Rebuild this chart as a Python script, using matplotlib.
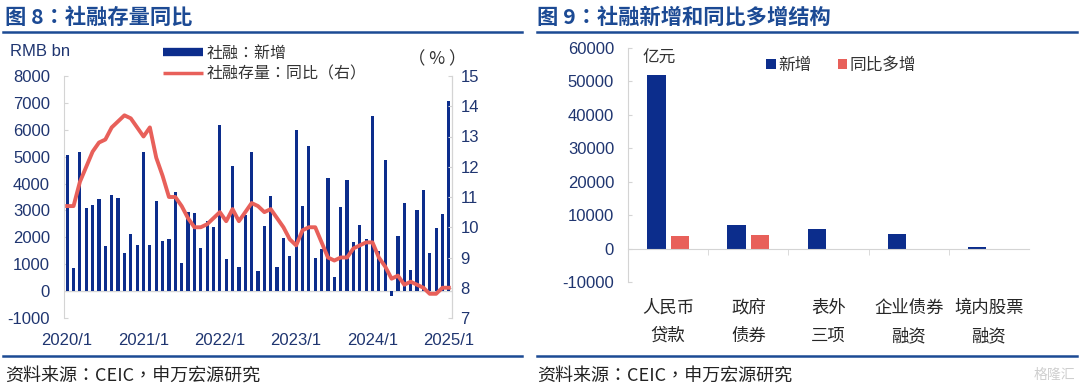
import numpy as np
import matplotlib.pyplot as plt
from matplotlib.lines import Line2D

plt.rcParams['font.family'] = ['Liberation Sans', 'Noto Sans CJK SC', 'DejaVu Sans']
plt.rcParams['axes.unicode_minus'] = False
cjk = ['Noto Sans CJK TC', 'DejaVu Sans']  # centred full-width punctuation

# ---- 图8 data: monthly TSF new (RMB bn) and stock yoy (%) 2020/1 - 2025/1
tsf_new = [5070, 855, 5180, 3090, 3190, 3430, 1690, 3580, 3480, 1400, 2130, 1720,
           5170, 1710, 3340, 1850, 1920, 3670, 1060, 2960, 2900, 1590, 2610, 2370,
           6170, 1190, 4650, 910, 2840, 5170, 760, 2430, 3530, 910, 1990, 1310,
           5980, 3160, 5380, 1220, 1560, 4220, 540, 3120, 4130, 1840, 2450, 1930,
           6500, 1500, 4870, -199, 2060, 3290, 770, 3030, 3760, 1400, 2340, 2850,
           7060]
tsf_yoy = [10.7, 10.7, 11.5, 12.0, 12.5, 12.8, 12.9, 13.3, 13.5, 13.7, 13.6, 13.3,
           13.0, 13.3, 12.3, 11.7, 11.0, 11.0, 10.7, 10.3, 10.0, 10.0, 10.1, 10.3,
           10.5, 10.2, 10.6, 10.2, 10.5, 10.8, 10.7, 10.5, 10.6, 10.3, 10.0, 9.6,
           9.4, 9.9, 10.0, 10.0, 9.5, 9.0, 8.9, 9.0, 9.0, 9.3, 9.4, 9.5,
           9.5, 9.0, 8.7, 8.3, 8.4, 8.1, 8.2, 8.1, 8.0, 7.8, 7.8, 8.0,
           8.0]
year_labels = ['2020/1', '2021/1', '2022/1', '2023/1', '2024/1', '2025/1']

# ---- 图9 data (亿元)
categories = ['人民币\n贷款', '政府\n债券', '表外\n三项', '企业债券\n融资', '境内股票\n融资']
new_add = [52000, 6950, 5750, 4500, 400]
yoy_more = [3650, 4000, -250, -60, -40]

navy = '#1f3570'
bar_blue = '#0c2d8c'
line_red = '#e8605a'
title_c = '#1c4a94'
grid_c = '#d4d4d4'

fig = plt.figure(figsize=(10.8, 3.9), dpi=100)

# titles and rules
fig.text(5 / 1080, 1 - 17 / 390, '图 8：社融存量同比', fontsize=15.3, fontweight='bold',
         color=title_c, va='center', ha='left', family=cjk)
fig.text(537 / 1080, 1 - 17 / 390, '图 9：社融新增和同比多增结构', fontsize=15.3, fontweight='bold',
         color=title_c, va='center', ha='left', family=cjk)
for y in (32, 356):
    fig.add_artist(Line2D([3 / 1080, 522 / 1080], [1 - y / 390] * 2, color=title_c, lw=1.8))
    fig.add_artist(Line2D([537 / 1080, 1077 / 1080], [1 - y / 390] * 2, color=title_c, lw=1.8))
for fx in (5, 537):
    fig.text(fx / 1080, 1 - 377 / 390, '资料来源：CEIC，申万宏源研究', fontsize=13, color='#222222',
             va='center', ha='left', family=cjk)
fig.text(1075 / 1080, 1 - 375 / 390, '格隆汇', fontsize=10, color='#cfcfcf',
         va='center', ha='right', family=cjk)

# ---- left chart
ax = fig.add_axes([64 / 1080, 1 - 318 / 390, (452 - 64) / 1080, (318 - 76) / 390])
x = np.arange(len(tsf_new))
ax.bar(x, tsf_new, width=0.5, color=bar_blue, zorder=2)
ax.set_xlim(-0.5, 60.5)
ax.set_ylim(-1000, 8000)
ax.set_yticks(np.arange(-1000, 8001, 1000))
ax.set_xticks(np.arange(0, 61, 12))
ax.set_xticklabels(year_labels)
ax.axhline(0, color=grid_c, lw=1, zorder=1)
for s in ('top', 'bottom'):
    ax.spines[s].set_visible(False)
for s in ('left', 'right'):
    ax.spines[s].set_color(grid_c)
ax.tick_params(axis='y', colors=grid_c, labelcolor=navy, labelsize=12, length=3, direction='in', pad=10)
ax.tick_params(axis='x', colors=grid_c, labelcolor=navy, labelsize=12, length=0, pad=11)

ax2 = ax.twinx()
ax2.plot(x, tsf_yoy, color=line_red, lw=2.8, zorder=3)
ax2.set_ylim(7, 15)
ax2.set_yticks(np.arange(7, 16, 1))
for s in ('top', 'bottom', 'left'):
    ax2.spines[s].set_visible(False)
ax2.spines['right'].set_color(grid_c)
ax2.tick_params(axis='y', colors=grid_c, labelcolor=navy, labelsize=12, length=3, direction='in', pad=6)

fig.text(10 / 1080, 1 - 52 / 390, 'RMB bn', fontsize=12, color=navy, va='center', ha='left')
fig.text(437 / 1080, 1 - 59 / 390, '（ % ）', fontsize=12.5, color='#333333', va='center', ha='center',
         family=['Noto Sans CJK JP', 'DejaVu Sans'])
handles = [Line2D([], [], color=bar_blue, lw=6, solid_capstyle='butt'),
           Line2D([], [], color=line_red, lw=2.5, solid_capstyle='butt')]
fig.legend(handles, ['社融：新增', '社融存量：同比（右）'], loc='upper left',
           bbox_to_anchor=(163 / 1080, 1 - 45 / 390), frameon=False,
           prop={'family': cjk, 'size': 11.5},
           handlelength=2.5, handletextpad=0.2, labelspacing=0.2, borderpad=0, borderaxespad=0,
           labelcolor='#333333')

# ---- right chart
bx = fig.add_axes([628 / 1080, 1 - 282 / 390, (1029 - 628) / 1080, (282 - 48) / 390])
cx = np.arange(len(categories))
bx.bar(cx - 0.145, new_add, width=0.23, color=bar_blue, label='新增', zorder=2)
bx.bar(cx + 0.145, yoy_more, width=0.23, color=line_red, label='同比多增', zorder=2)
bx.set_xlim(-0.5, len(categories) - 0.5)
bx.set_ylim(-10000, 60000)
bx.set_yticks(np.arange(-10000, 60001, 10000))
bx.spines['top'].set_visible(False)
bx.spines['right'].set_visible(False)
bx.spines['left'].set_color(grid_c)
bx.spines['bottom'].set_position(('data', 0))
bx.spines['bottom'].set_color(grid_c)
bx.set_xticks(cx)
bx.set_xticklabels(categories, linespacing=1.75, family=cjk)
bx.set_xticks(cx[:-1] + 0.5, minor=True)
bx.tick_params(axis='x', which='major', length=0, pad=36, labelsize=12.5, labelcolor='#262626')
bx.tick_params(axis='x', which='minor', length=4, color=grid_c, direction='out')
bx.tick_params(axis='y', colors=grid_c, labelcolor=navy, labelsize=12, length=3, direction='in', pad=10)
bx.text(0.037, 0.955, '亿元', transform=bx.transAxes, fontsize=12, color='#333333', va='center',
        family=cjk)
bx.legend(loc='center left', bbox_to_anchor=(0.345, 0.925), ncol=2, frameon=False,
          prop={'family': cjk, 'size': 12},
          handlelength=0.55, handleheight=0.55, handletextpad=0.15, columnspacing=1.6,
          borderpad=0, borderaxespad=0, labelcolor='#333333')

fig.savefig('out.png', dpi=100)
